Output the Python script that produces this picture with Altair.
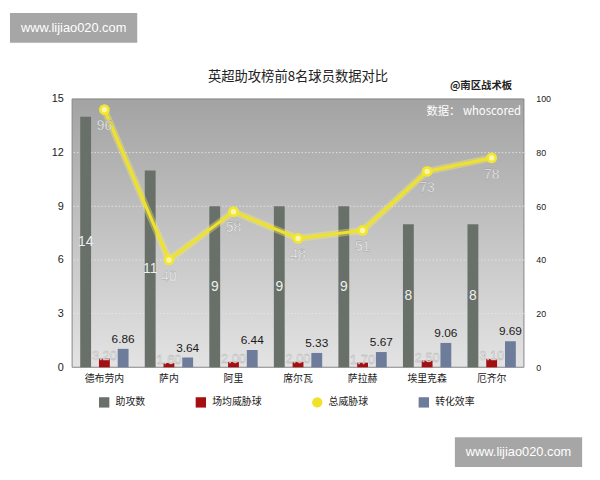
import altair as alt
import pandas as pd

players = ["德布劳内", "萨内", "阿里", "席尔瓦", "萨拉赫", "埃里克森", "厄齐尔"]
assists = [14, 11, 9, 9, 9, 8, 8]
threat_per_game = [3.20, 1.60, 2.00, 2.00, 1.70, 2.50, 3.10]
threat_total = [96, 40, 58, 48, 51, 73, 78]
conversion = [6.86, 3.64, 6.44, 5.33, 5.67, 9.06, 9.69]

left_ticks = [0, 3, 6, 9, 12, 15]
right_ticks = [0, 20, 40, 60, 80, 100]
grid_vals = [3, 6, 9, 12]

series = ["助攻数", "场均威胁球", "总威胁球", "转化效率"]
series_colors = ["#687069", "#a50f12", "#f0e22a", "#6e7c9b"]

W, H = 458, 272
FONT = "Noto Sans CJK SC"
NUM = "Liberation Sans"

df = pd.DataFrame({
    "player": players,
    "assists": assists,
    "per_game": threat_per_game,
    "total": threat_total,
    "conv": conversion,
})

xenc = alt.X("player:N", sort=players, title=None,
             scale=alt.Scale(paddingInner=0, paddingOuter=0),
             axis=alt.Axis(labelAngle=0, domain=False, ticks=False, labelPadding=6,
                           labelFontSize=10, labelColor="#222", labelFont=FONT))

color_scale = alt.Scale(domain=series, range=series_colors)
legend = alt.Legend(title=None, orient="none", legendX=27, legendY=302, direction="horizontal",
                    columns=4, columnPadding=51, symbolSize=110, labelFontSize=10,
                    labelColor="#222", symbolStrokeWidth=0, labelOffset=6, labelFont=FONT,
                    symbolType=alt.ExprRef(expr="datum.value === '总威胁球' ? 'circle' : 'square'"))

cenc = alt.Color("series:N", scale=color_scale, legend=legend)


def tagged(name):
    return alt.Chart(df).transform_calculate(series=f"'{name}'")


lscale = alt.Scale(domain=[0, 15], nice=False, zero=True)
rscale = alt.Scale(domain=[0, 100], nice=False, zero=True)

base = alt.Chart(df)

one = alt.Data(values=[{"k": 1}])
bg = alt.Chart(one).mark_rect(
    fill=alt.Gradient(gradient="linear", x1=0, x2=0, y1=0, y2=1,
                      stops=[alt.GradientStop(color="#a3a3a3", offset=0),
                             alt.GradientStop(color="#e3e3e3", offset=1)]),
    stroke="#858585", strokeWidth=1,
).encode(x=alt.value(0), x2=alt.value(W), y=alt.value(0), y2=alt.value(H))

grid = alt.Chart(alt.Data(values=[{"v": v} for v in grid_vals])).mark_rule(
    color="#e6e6e6", strokeDash=[1.5, 2], strokeWidth=1, opacity=0.9
).encode(y=alt.Y("v:Q", scale=lscale))

gray_bars = tagged("助攻数").mark_bar(width=11, xOffset=-19).encode(
    x=xenc,
    y=alt.Y("assists:Q", scale=lscale, title=None,
            axis=alt.Axis(orient="left", values=left_ticks, domain=False, ticks=False,
                          grid=False, labelPadding=9, labelFontSize=11, labelColor="#222",
                          labelFont=NUM)),
    color=cenc,
)
gray_text = base.transform_calculate(half="datum.assists / 2").mark_text(
    xOffset=-19, fontSize=14, color="#f0f0f0", baseline="middle", font=NUM
).encode(x=xenc, y=alt.Y("half:Q", scale=lscale), text="assists:Q")

left = alt.layer(bg, grid, gray_bars, gray_text)

raxis = alt.Axis(orient="right", values=right_ticks, domain=False, ticks=False, grid=False,
                 labelPadding=12, labelFontSize=9, labelColor="#222", labelFont=NUM)

red_bars = tagged("场均威胁球").mark_bar(width=11).encode(
    x=xenc,
    y=alt.Y("per_game:Q", scale=rscale, title=None, axis=raxis),
    color=cenc,
)
red_text = base.mark_text(fontSize=13, color="#ededed", baseline="middle", dy=-3, font=NUM,
                          stroke="#b0b0b0", strokeWidth=0.4).encode(
    x=xenc, y=alt.Y("per_game:Q", scale=rscale), text=alt.Text("per_game:Q", format=".2f"))

blue_bars = tagged("转化效率").mark_bar(width=11, xOffset=19).encode(
    x=xenc, y=alt.Y("conv:Q", scale=rscale), color=cenc)
blue_text = base.mark_text(xOffset=19, fontSize=12, color="#1a1a1a", baseline="bottom", dy=-3,
                           font=NUM).encode(
    x=xenc, y=alt.Y("conv:Q", scale=rscale), text=alt.Text("conv:Q", format=".2f"))

glow = base.mark_line(color="#f6ee60", strokeWidth=7, opacity=0.4).encode(
    x=xenc, y=alt.Y("total:Q", scale=rscale))
line = tagged("总威胁球").mark_line(strokeWidth=3).encode(
    x=xenc, y=alt.Y("total:Q", scale=rscale), color=cenc)
pts = base.mark_point(filled=True, size=120, color="#f2e630", opacity=1).encode(
    x=xenc, y=alt.Y("total:Q", scale=rscale))
pts_c = base.mark_point(filled=True, size=28, color="#fdf8b0", opacity=1).encode(
    x=xenc, y=alt.Y("total:Q", scale=rscale))
line_text = base.mark_text(fontSize=14, color="#f8f8f8", baseline="middle", dy=17, font=NUM,
                           stroke="#8c8c8c", strokeWidth=0.3).encode(
    x=xenc, y=alt.Y("total:Q", scale=rscale), text="total:Q")

title_txt = alt.Chart(one).mark_text(text="英超助攻榜前8名球员数据对比", align="center",
                                     baseline="middle", fontSize=13.5, color="#222",
                                     font=FONT).encode(x=alt.value(229), y=alt.value(-22))
src_text = alt.Chart(one).mark_text(text="数据： whoscored", align="right", baseline="middle",
                                     fontSize=11.5, color="#ffffff", font=FONT).encode(
    x=alt.value(W - 3), y=alt.value(13))
brand = alt.Chart(one).mark_text(text="@南区战术板", align="right", baseline="middle",
                                 fontSize=10.5, fontWeight="bold", color="#222",
                                 font=FONT).encode(x=alt.value(W - 12), y=alt.value(-13))

wm1_box = alt.Chart(one).mark_rect(color="#a6a6a6").encode(
    x=alt.value(-63), x2=alt.value(66), y=alt.value(-87), y2=alt.value(-57))
wm1_txt = alt.Chart(one).mark_text(text="www.lijiao020.com", fontSize=13, color="#ffffff",
                                   baseline="middle", font=NUM).encode(
    x=alt.value(1.5), y=alt.value(-72))
wm2_box = alt.Chart(one).mark_rect(color="#a6a6a6").encode(
    x=alt.value(388), x2=alt.value(517), y=alt.value(343), y2=alt.value(373))
wm2_txt = alt.Chart(one).mark_text(text="www.lijiao020.com", fontSize=13, color="#ffffff",
                                   baseline="middle", font=NUM).encode(
    x=alt.value(452.5), y=alt.value(358))

right = alt.layer(red_bars, red_text, blue_bars, blue_text, glow, line, pts, pts_c, line_text,
                  title_txt, src_text, brand, wm1_box, wm1_txt, wm2_box, wm2_txt)

chart = alt.layer(left, right).resolve_scale(y="independent").properties(
    width=W, height=H,
    autosize=alt.AutoSizeParams(type="none"),
    padding={"left": 65, "top": 89, "right": 69, "bottom": 103},
).configure(font=FONT).configure_view(stroke=None)

chart.save("out.html", embed_options={"renderer": "svg", "actions": False})
